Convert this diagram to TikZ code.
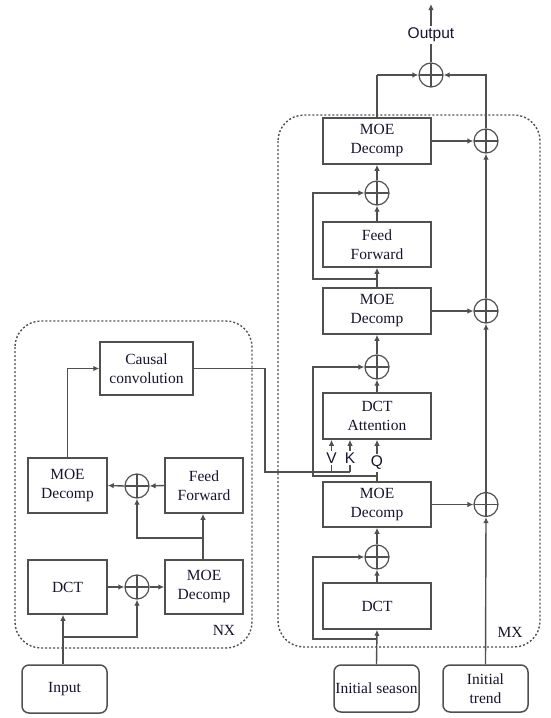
\documentclass[tikz,border=0pt]{standalone}
\usepackage{fontspec}
\setmainfont{Liberation Serif}
\newfontfamily\lblfont{Liberation Sans}
\usepackage{tikz}
\usetikzlibrary{arrows.meta}
\definecolor{ln}{RGB}{80,80,80}
\definecolor{tx}{RGB}{20,20,45}

\begin{document}
\begin{tikzpicture}[x=1pt,y=-1pt,line width=1.4pt,ln,
  blk/.style n args={2}{draw=ln,line width=1.5pt,text=tx,minimum width=#1,minimum height=#2,align=center,inner sep=1pt,font=\fontsize{15.5}{19}\selectfont},
  rblk/.style n args={2}{blk={#1}{#2},rounded corners=7pt},
  pls/.style={circle,draw=ln,line width=1.2pt,minimum size=24pt,inner sep=0pt,
    path picture={\draw[ln,line width=1.2pt] (path picture bounding box.north) -- (path picture bounding box.south)
      (path picture bounding box.west) -- (path picture bounding box.east);}},
  lbl/.style={text=tx,inner sep=1pt,font=\lblfont\fontsize{15.5}{18}\selectfont},
  grp/.style={draw=ln,line width=1.4pt,dash pattern=on 2pt off 2pt,rounded corners=26pt},
  arr/.style={-{Latex[length=6pt,width=5.5pt]}}]
\useasboundingbox (0,0) rectangle (550,718);

% group frames
\draw[grp] (15,321) rectangle (252,648);
\draw[grp] (278,115) rectangle (540,647);
\node[text=tx,font=\fontsize{15.5}{18}\selectfont] (nx) at (224,630) {NX};
\node[text=tx,font=\fontsize{15.5}{18}\selectfont] (mx) at (510,632) {MX};

% encoder side
\node[blk={93pt}{53pt}] (cconv) at (146.5,368.5) {Causal\\convolution};
\node[blk={79pt}{55pt}] (lmoe) at (67.5,485.5) {MOE\\Decomp};
\node[blk={78pt}{55pt}] (lff) at (204,485.5) {Feed\\Forward};
\node[pls] (lpl1) at (137,486) {};
\node[blk={79pt}{54pt}] (ldct) at (67.5,587) {DCT};
\node[pls] (lpl2) at (137,587) {};
\node[blk={78pt}{54pt}] (lmoe2) at (204,587) {MOE\\Decomp};
\node[rblk={85pt}{48pt}] (input) at (64.5,689) {Input};

% decoder side
\node[blk={108pt}{46pt}] (rmoe3) at (377,141) {MOE\\Decomp};
\node[pls] (rpl3) at (377,193) {};
\node[blk={108pt}{45pt}] (rff) at (377,244.5) {Feed\\Forward};
\node[blk={108pt}{46pt}] (rmoe2) at (377,311) {MOE\\Decomp};
\node[pls] (rpl2) at (377,367) {};
\node[blk={108pt}{46pt}] (ratt) at (377,416) {DCT\\Attention};
\node[blk={108pt}{45pt}] (rmoe1) at (377,504.5) {MOE\\Decomp};
\node[pls] (rpl1) at (377,557) {};
\node[blk={108pt}{46pt}] (rdct) at (377,606) {DCT};
\node[rblk={85pt}{47pt}] (season) at (376.5,688.5) {Initial season};
\node[rblk={85pt}{47pt}] (trend) at (485.5,688.5) {Initial\\trend};
\node[pls] (tpl1) at (486,504.5) {};
\node[pls] (tpl2) at (486,311) {};
\node[pls] (tpl3) at (486,141) {};
\node[pls] (opl) at (431,75) {};
\node[lbl] (outlab) at (431,35) {Output};
\coordinate (outend) at (431,4);
\node[lbl] (vlab) at (331.5,458) {V};
\node[lbl] (klab) at (350,458) {K};
\node[lbl] (qlab) at (377,463) {Q};

% helper points
\coordinate (inbr) at (63,637);
\coordinate (ffbr) at (203,538);
\coordinate (cbend) at (265,472);
\coordinate (kin) at (350,472);
\coordinate (lp1) at (313,639);
\coordinate (lp2) at (313,476);
\coordinate (lp3) at (313,279);

% encoder connectors
\draw[arr] (input.north -| inbr) -- (ldct.south -| inbr);
\draw[arr] (inbr) -| (lpl2.south);
\draw[arr] (ldct.east) -- (lpl2.west);
\draw[arr] (lpl2.east) -- (lmoe2.west);
\draw[arr] (lmoe2.north -| ffbr) -- (lff.south -| ffbr);
\draw[arr] (ffbr) -| (lpl1.south);
\draw[arr] (lff.west) -- (lpl1.east);
\draw[arr] (lpl1.west) -- (lmoe.east);
\draw[arr] (lmoe.north) |- (cconv.west);
\draw (cconv.east) -| (cbend) -- (kin);
\draw (vlab.south) -- (vlab.south |- kin);
\draw (klab.south) -- (kin);
\draw[arr] (vlab.north) -- (vlab.north |- ratt.south);
\draw[arr] (klab.north) -- (klab.north |- ratt.south);

% decoder connectors
\draw[arr] (season.north) -- (rdct.south);
\draw[arr] (season.north |- lp1) -- (lp1) |- (rpl1.west);
\draw (rmoe1.north) -- (qlab.south);
\draw[arr] (qlab.north) -- (ratt.south);
\draw[arr] (rmoe1.north |- lp2) -- (lp2) |- (rpl2.west);
\draw[arr] (rmoe2.north |- lp3) -- (lp3) |- (rpl3.west);
\foreach \a/\b in {rdct/rpl1,rpl1/rmoe1,ratt/rpl2,rpl2/rmoe2,rmoe2/rff,rff/rpl3,rpl3/rmoe3}
  \draw[arr,line width=1.8pt] (\a.north) -- (\b.south);
\foreach \a/\b in {trend/tpl1,tpl1/tpl2,tpl2/tpl3}
  \draw[arr] (\a.north) -- (\b.south);
\foreach \a/\b in {rmoe3/tpl3,rmoe2/tpl2,rmoe1/tpl1}
  \draw[arr,line width=1.1pt] (\a.east) -- (\b.west);
\draw[arr] (tpl3.north) |- (opl.east);
\draw[arr] (rmoe3.north |- opl) -- (opl.west);
\draw (rmoe3.north) -- (rmoe3.north |- opl);
\draw (opl.north) -- (outlab.south);
\draw[arr] (outlab.north) -- (outend);
\end{tikzpicture}
\end{document}
